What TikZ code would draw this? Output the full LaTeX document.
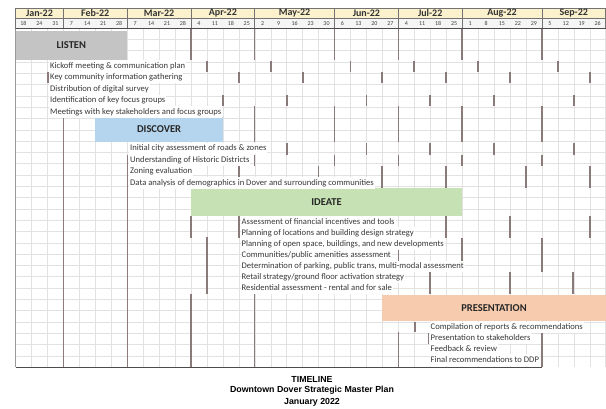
\documentclass[tikz,border=0pt]{standalone}
\usepackage{fontspec}
\setmainfont{Carlito}
\newfontfamily\titlefont{Liberation Sans}
\usepackage{tikz}

\definecolor{headc}{RGB}{252,241,205}
\definecolor{gridc}{RGB}{226,226,226}
\definecolor{barc}{RGB}{138,122,122}
\definecolor{listenc}{RGB}{196,196,196}
\definecolor{discoverc}{RGB}{181,212,238}
\definecolor{ideatec}{RGB}{198,225,180}
\definecolor{presentc}{RGB}{247,204,174}

\begin{document}
\begin{tikzpicture}
[   x=1pt,y=-1pt,
    gridl/.style={draw=gridc,line width=0.4pt},
    bar/.style={draw=barc,line width=1.3pt},
    mcell/.style={fill=headc,draw=black!55,line width=0.6pt},
    wcell/.style={fill=black!4,draw=black!55,line width=0.6pt},
    mlabel/.style={inner sep=0pt,font=\bfseries\fontsize{10}{11}\selectfont,text=black!80},
    wlabel/.style={inner sep=0pt,font=\fontsize{6}{6}\selectfont,text=black!75},
    phase/.style={fill=#1,inner sep=0pt,font=\bfseries\fontsize{10.5}{12}\selectfont,text=black!85},
    task/.style={anchor=west,fill=white,inner xsep=1pt,inner ysep=0pt,minimum height=11.5pt,
                 text height=6pt,text depth=1.8pt,font=\fontsize{8.6}{9}\selectfont,text=black!78},
    ttl/.style={inner sep=0pt,font=\titlefont\bfseries\fontsize{8.8}{10}\selectfont},
]
    \useasboundingbox (0,0) rectangle (606,408);
    % grid of weeks and rows
    \foreach \c in {0,...,37}
    {   \draw[gridl] ({15.5+15.95*\c},28) -- ({15.5+15.95*\c},367);
    }
    \foreach \k in {1,...,29}
    {   \draw[gridl] (15.5,{28+11.3*\k}) -- (605.7,{28+11.3*\k});
    }
    \draw[black!40,line width=0.5pt] (15.5,28) -- (15.5,367);
    % month marks, row by row
    \foreach \ya/\yb/\xs in {28/60/{191,254.8,334.5,398.3,462.1,541.9},
                             60.5/71.5/{207,271,350.5,414,478,558},
                             72/83/{48,239,303,382,446,510,590},
                             95/106/{223,287,366.5,430,494,574},
                             106/142/{191,254.8,334.5,398.3,462.1,541.9},
                             143/154.5/{223,287,366.5,430,494,574},
                             155/166/{254.8,334.5,398.3,462.1,541.9},
                             166/188/{175,239,318.5,382,446,526,590},
                             216/238/{191,239,303,382,446,510,590},
                             237/294/{207},
                             238/272/{254.8,334.5,398.3,462.1,541.9},
                             272/294/{350.5,430,510,573},
                             294/367/{191,254.8},
                             322/332/{415},
                             332/367/{398.3,541.9},
                             333/344/{428.5},
                             117/367/{63.4},
                             155/367/{127.2}}
    {   \foreach \x in \xs
        {   \draw[bar] (\x,\ya) -- (\x,\yb);
        }
    }
    % phases
    \node[phase=listenc,minimum width=111.7pt,minimum height=29pt] (listen) at (71.35,45.5) {LISTEN};
    \node[phase=discoverc,minimum width=127.6pt,minimum height=25pt] (discover) at (159.1,129.5) {DISCOVER};
    \node[phase=ideatec,minimum width=271.1pt,minimum height=28pt] (ideate) at (326.55,202) {IDEATE};
    \node[phase=presentc,minimum width=223.3pt,minimum height=26pt] (present) at (494,308) {PRESENTATION};
    % tasks
    \foreach \t/\y [count=\i] in {{Kickoff meeting \& communication plan}/66,
                                  {Key community information gathering}/77.5,
                                  {Distribution of digital survey}/89,
                                  {Identification of key focus groups}/100.5,
                                  {Meetings with key stakeholders and focus groups}/112}
    {   \node[task] (l-\i) at (49,\y) {\t};
    }
    \foreach \t/\y [count=\i] in {{Initial city assessment of roads \& zones}/148.5,
                                  {Understanding of Historic Districts}/160,
                                  {Zoning evaluation}/171.5,
                                  {Data analysis of demographics in Dover and surrounding communities}/183}
    {   \node[task] (d-\i) at (129,\y) {\t};
    }
    \foreach \t/\y [count=\i] in {{Assessment of financial incentives and tools}/222,
                                  {Planning of locations and building design strategy}/233,
                                  {Planning of open space, buildings, and new developments}/244,
                                  {Communities/public amenities assessment}/255,
                                  {Determination of parking, public trans, multi-modal assessment}/266.5,
                                  {Retail strategy/ground floor activation strategy}/277.5,
                                  {Residential assessment - rental and for sale}/288.5}
    {   \node[task] (i-\i) at (240.5,\y) {\t};
    }
    \foreach \t/\y [count=\i] in {{Compilation of reports \& recommendations}/327.5,
                                  {Presentation to stakeholders}/338.5,
                                  {Feedback \& review}/349,
                                  {Final recommendations to DDP}/360}
    {   \node[task] (p-\i) at (429.5,\y) {\t};
    }
    \draw[black!70,line width=1pt] (15.5,367) -- (541.9,367);
    % header
    \foreach \m/\a/\b in {Jan-22/0/3,Feb-22/3/7,Mar-22/7/11,Apr-22/11/15,May-22/15/20,
                          Jun-22/20/24,Jul-22/24/28,Aug-22/28/33,Sep-22/33/37}
    {   \pgfmathsetmacro\xa{15.5+15.95*\a}
        \pgfmathsetmacro\xb{15.5+15.95*\b}
        \draw[mcell] (\xa,8) rectangle (\xb,18.5);
        \draw[wcell] (\xa,18.5) rectangle (\xb,28);
        \node[mlabel] (m-\a) at ({(\xa+\xb)/2},13.5) {\m};
    }
    \foreach \d [count=\i from 0] in {18,24,31,7,14,21,28,7,14,21,28,4,11,18,25,2,9,16,23,30,
                                      6,13,20,27,4,11,18,25,1,8,15,22,29,5,12,19,26}
    {   \node[wlabel] (w-\i) at ({15.5+15.95*(\i+0.5)},23.4) {\d};
    }
    \draw[black!70,line width=0.9pt] (15.5,28) -- (605.7,28);
    % title
    \node[ttl] (t-1) at (312,379) {TIMELINE};
    \node[ttl] (t-2) at (312,390.5) {Downtown Dover Strategic Master Plan};
    \node[ttl] (t-3) at (312,402) {January 2022};
\end{tikzpicture}
\end{document}
